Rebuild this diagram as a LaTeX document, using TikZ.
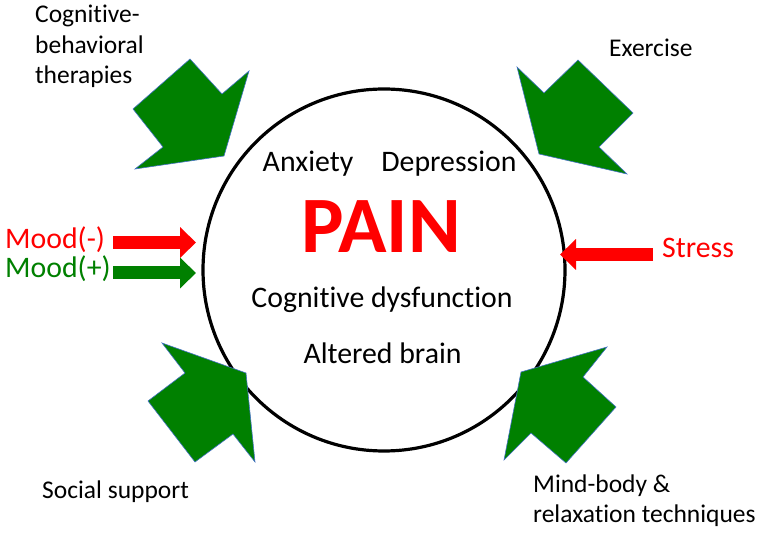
\documentclass[tikz,border=0pt]{standalone}
\usepackage{fontspec}
\setmainfont{Carlito}[Ligatures=NoCommon]
\usetikzlibrary{arrows.meta}
\colorlet{blockgreen}{green!50!black}
\definecolor{edgeblue}{RGB}{68,114,196}

\begin{document}
\begin{tikzpicture}[x=1pt,y=-1pt,
    blockarrow/.style={fill=blockgreen, draw=edgeblue, line width=0.6pt, line join=miter},
    fatarrow/.style={line width=13pt, -{Triangle[length=16pt,width=30pt]}},
    lbl/.style={font=\fontsize{25.5}{30.5}\selectfont, inner sep=0pt, align=left},
    inner/.style={font=\fontsize{29.8}{34}\selectfont, inner sep=0pt}]
    \useasboundingbox (0,0) rectangle (764,534);
    % the circle
    \node[draw, circle, line width=3.2pt, minimum size=362pt, inner sep=0pt] (painc) at (384,270) {};
    % big green arrows
    \draw[blockarrow] (190,59) -- (133,109) -- (163,147) -- (135,169) -- (224,156) -- (249,71) -- (222,94) -- cycle;
    \draw[blockarrow] (517,67) -- (544,93) -- (578,60) -- (633,113) -- (599,147) -- (627,174) -- (539,154) -- cycle;
    \draw[blockarrow] (162,343) -- (246,373) -- (255,462) -- (233,434) -- (195,462) -- (148,401) -- (185,373) -- cycle;
    \draw[blockarrow] (521,372) -- (607,347) -- (583,377) -- (616,407) -- (566,463) -- (531,433) -- (504,460) -- cycle;
    % labels (multi-line: base is the last line)
    \node[lbl, anchor=base west] (cbt) at (35,84) {Cognitive-\\behavioral\\therapies};
    \node[lbl, anchor=base west] (exer) at (609,57) {Exercise};
    \node[lbl, anchor=base west] (social) at (42,499) {Social support};
    \node[lbl, anchor=base west] (mindbody) at (533,523) {Mind-body \&\\relaxation techniques};
    % inside the circle
    \node[inner, anchor=base] (anx) at (308,172) {Anxiety};
    \node[inner, anchor=base] (dep) at (449,172) {Depression};
    \node[anchor=base, font=\bfseries\fontsize{80}{90}\selectfont, text=red, inner sep=0pt] (paintxt) at (381,253) {PAIN};
    \node[inner, anchor=base] (cogdys) at (382,308) {Cognitive dysfunction};
    \node[inner, anchor=base] (altered) at (382.5,364) {Altered brain};
    % mood and stress
    \node[inner, text=red, anchor=base west] (moodneg) at (5,249) {Mood(-)};
    \node[inner, text=blockgreen, anchor=base west] (moodpos) at (5,278) {Mood(+)};
    \node[inner, text=red, anchor=base west] (stress) at (662,258) {Stress};
    \coordinate (mnegfrom) at (113,242.5);
    \coordinate (mnegto) at (196,242.5);
    \coordinate (mposfrom) at (113,273);
    \coordinate (mposto) at (196,273);
    \coordinate (stressfrom) at (653,254.5);
    \coordinate (stressto) at (560,254.5);
    \draw[fatarrow, red] (mnegfrom) -- (mnegto);
    \draw[fatarrow, blockgreen] (mposfrom) -- (mposto);
    \draw[fatarrow, red] (stressfrom) -- (stressto);
\end{tikzpicture}
\end{document}
